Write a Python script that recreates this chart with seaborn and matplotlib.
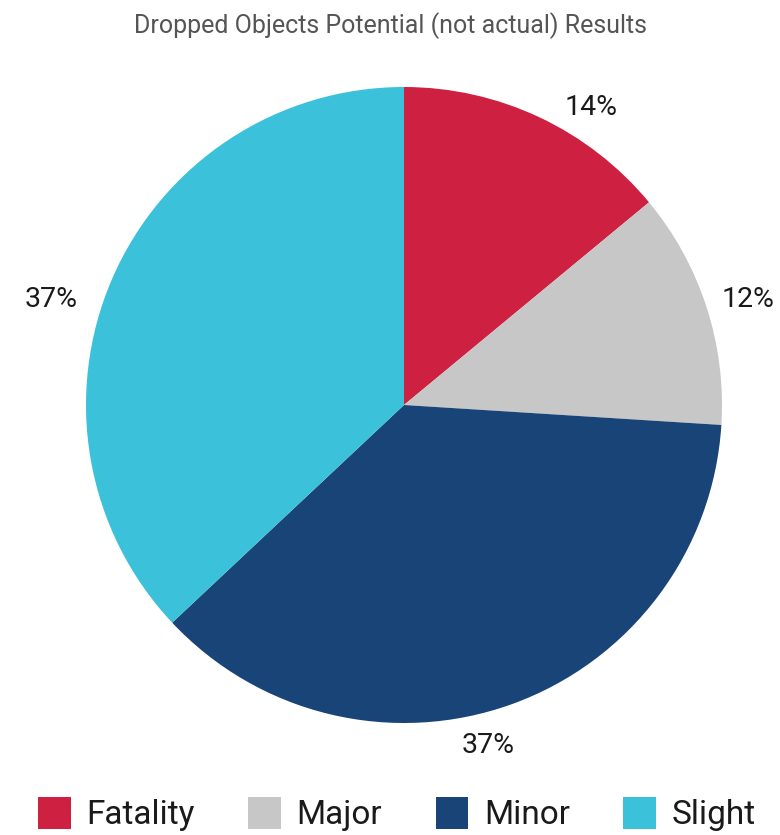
import matplotlib
matplotlib.use("Agg")
import matplotlib.pyplot as plt
from matplotlib.patches import Patch
import seaborn as sns

# Share of dropped-object incidents by potential outcome
categories = ["Fatality", "Major", "Minor", "Slight"]
shares = [14, 12, 37, 37]
colors = ["#CE2040", "#C6C7C6", "#184477", "#3BC1DA"]
title = "Dropped Objects Potential (not actual) Results"

# Small per-label nudges (in pixels, +x right, +y down) that spread the
# percentage labels around the rim the way the label layout does
label_nudge_px = [(35, 25), (5, 5), (-37, 5), (-26, 36)]

sns.set_theme(style="white")
plt.rcParams["font.family"] = ["Roboto", "DejaVu Sans"]

W, H = 780, 835
fig = plt.figure(figsize=(W / 100, H / 100), dpi=100)
fig.patch.set_facecolor("white")

# Pie occupies a square box centred slightly right of middle
cx, cy, r = 404, 405, 318
ax = fig.add_axes([(cx - r) / W, (H - cy - r) / H, 2 * r / W, 2 * r / H])

wedges, texts, autotexts = ax.pie(
    shares,
    colors=colors,
    startangle=90,
    counterclock=False,
    autopct=lambda p: f"{p:.0f}%",
    pctdistance=1.12,
    wedgeprops=dict(linewidth=0),
    textprops=dict(fontsize=20.5, color="#1a1a1a"),
)
for t, (dx, dy) in zip(autotexts, label_nudge_px):
    x, y = t.get_position()
    t.set_position((x + dx / r, y - dy / r))

ax.set_xlim(-1, 1)
ax.set_ylim(-1, 1)
ax.set_aspect("equal")
ax.axis("off")

fig.text(0.5, 1 - 26 / H, title, ha="center", va="center",
         fontsize=18, color="#555555")

handles = [Patch(facecolor=c, edgecolor="none") for c in colors]
fig.legend(
    handles, categories,
    loc="center", bbox_to_anchor=(397 / W, 1 - 814 / H),
    ncol=4, frameon=False, fontsize=24,
    handlelength=0.97, handleheight=1.09,
    handletextpad=0.48, columnspacing=1.6,
    labelcolor="#1a1a1a",
)

fig.savefig("out.png", dpi=100, facecolor="white")
